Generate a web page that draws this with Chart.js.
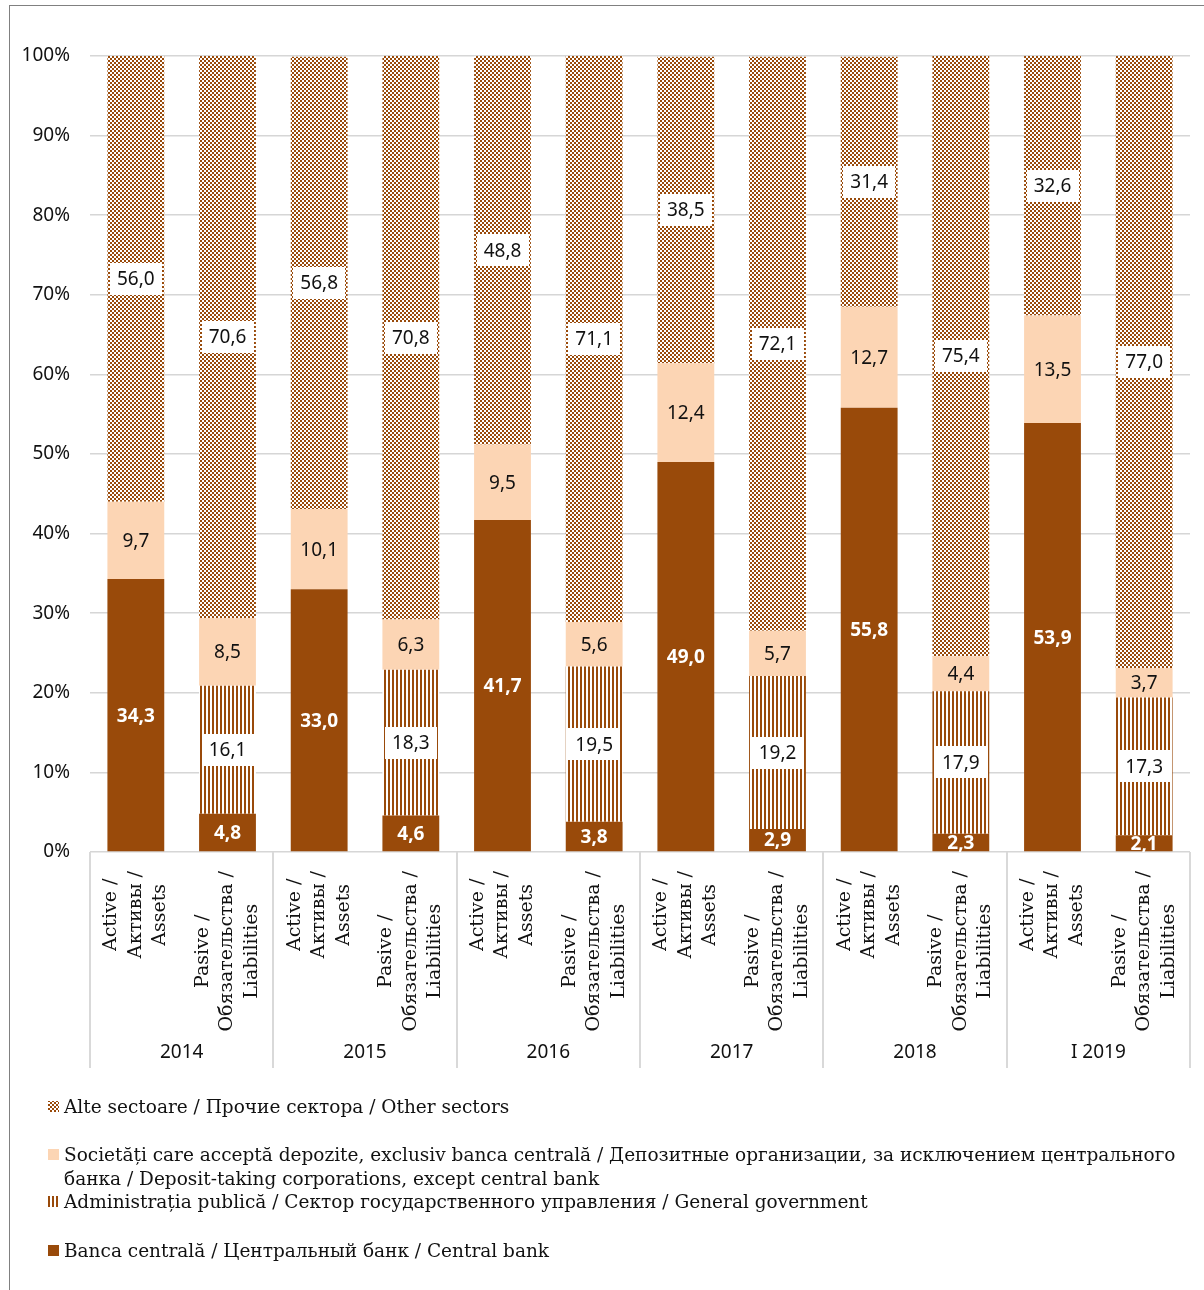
<!DOCTYPE html>
<html><head><meta charset="utf-8">
<script src="https://cdn.jsdelivr.net/npm/chart.js@4.4.1/dist/chart.umd.min.js"></script>
<style>html,body{margin:0;padding:0;background:#fff;} #wrap{width:1204px;height:1290px;position:relative;}</style>
</head><body><div id="wrap"><canvas id="c" width="1204" height="1290"></canvas></div>
<script>
// ---- data ----
const groups = ['2014', '2015', '2016', '2017', '2018', 'I 2019'];
const barTypes = [['Active /', 'Активы /', 'Assets'], ['Pasive /', 'Обязательства /', 'Liabilities']];
const categories = ['2014 A', '2014 P', '2015 A', '2015 P', '2016 A', '2016 P', '2017 A', '2017 P', '2018 A', '2018 P', 'I 2019 A', 'I 2019 P'];
const centralBank   = [34.3, 4.8, 33.0, 4.6, 41.7, 3.8, 49.0, 2.9, 55.8, 2.3, 53.9, 2.1];
const generalGov    = [null, 16.1, null, 18.3, null, 19.5, null, 19.2, null, 17.9, null, 17.3];
const depositTaking = [9.7, 8.5, 10.1, 6.3, 9.5, 5.6, 12.4, 5.7, 12.7, 4.4, 13.5, 3.7];
const otherSectors  = [56.0, 70.6, 56.8, 70.8, 48.8, 71.1, 38.5, 72.1, 31.4, 75.4, 32.6, 77.0];
const yTicks = [0, 10, 20, 30, 40, 50, 60, 70, 80, 90, 100];
const seriesNames = [
  'Banca centrală / Центральный банк / Central bank',
  'Administrația publică / Сектор государственного управления / General government',
  'Societăți care acceptă depozite, exclusiv banca centrală / Депозитные организации, за исключением центрального банка / Deposit-taking corporations, except central bank',
  'Alte sectoare / Прочие сектора / Other sectors'
];
const legendLines = [
  ['Alte sectoare / Прочие сектора / Other sectors'],
  ['Societăți care acceptă depozite, exclusiv banca centrală / Депозитные организации, за исключением центрального', 'банка / Deposit-taking corporations, except central bank'],
  ['Administrația publică / Сектор государственного управления / General government'],
  ['Banca centrală / Центральный банк / Central bank']
];

// ---- styles ----
const BROWN = '#994a0a';
const PEACH = '#fcd5b4';
const SERIF = '"DejaVu Serif"';
const SANS = '"Noto Sans"';

function makePattern(w, h, fn) {
  const cv = document.createElement('canvas');
  cv.width = w; cv.height = h;
  const c = cv.getContext('2d');
  c.fillStyle = '#fff'; c.fillRect(0, 0, w, h);
  c.fillStyle = BROWN;
  for (let y = 0; y < h; y++) for (let x = 0; x < w; x++) if (fn(x, y)) c.fillRect(x, y, 1, 1);
  return document.getElementById('c').getContext('2d').createPattern(cv, 'repeat');
}
const checker = makePattern(8, 8, (x, y) => {
  if ((x === 4 || x === 5) && (y === 2 || y === 3)) return false;
  return (((x >> 1) + (y >> 1)) % 2) === 0;
});
const stripes = makePattern(4, 1, (x) => x < 2);

const fills = [BROWN, stripes, PEACH, checker];
const seriesData = [centralBank, generalGov, depositTaking, otherSectors];

const labelStyles = [
  { color: '#ffffff', bold: true, box: false },
  { color: '#111111', bold: false, box: true },
  { color: '#111111', bold: false, box: false },
  { color: '#111111', bold: false, box: true }
];

const decor = {
  id: 'decor',
  beforeDraw(chart) {
    const ctx = chart.ctx;
    ctx.save();
    ctx.fillStyle = '#fff';
    ctx.fillRect(0, 0, chart.width, chart.height);
    ctx.strokeStyle = '#808080';
    ctx.lineWidth = 1;
    ctx.strokeRect(9.5, 5.5, 1400, 1400);
    ctx.restore();
  },
  afterDatasetsDraw(chart) {
    const ctx = chart.ctx, ca = chart.chartArea;
    ctx.save();
    ctx.beginPath();
    ctx.rect(ca.left, ca.top, ca.right - ca.left, ca.bottom - ca.top);
    ctx.clip();
    chart.data.datasets.forEach((ds, di) => {
      const meta = chart.getDatasetMeta(di);
      const st = labelStyles[di];
      meta.data.forEach((el, i) => {
        const v = ds.data[i];
        if (v == null || v === 0) return;
        const x = el.x, y = (el.y + el.base) / 2;
        const txt = v.toFixed(1).replace('.', ',');
        ctx.font = (st.bold ? 'bold ' : '') + '19px ' + SANS;
        const w = ctx.measureText(txt).width;
        if (st.box) {
          ctx.fillStyle = '#fff';
          ctx.fillRect(Math.round(x - w / 2 - 7), Math.round(y - 16), Math.round(w + 14), 32);
        }
        ctx.fillStyle = st.color;
        ctx.textAlign = 'center';
        ctx.textBaseline = 'middle';
        ctx.fillText(txt, x, y + 1);
      });
    });
    ctx.restore();
  },
  afterDraw(chart) {
    const ctx = chart.ctx, ca = chart.chartArea;
    const xs = chart.scales.x;
    ctx.save();
    // separators
    ctx.strokeStyle = '#d9d9d9';
    ctx.lineWidth = 2;
    const n = categories.length;
    const step = (ca.right - ca.left) / n;
    for (let g = 0; g <= groups.length; g++) {
      const x = Math.round(ca.left + g * 2 * step);
      ctx.beginPath(); ctx.moveTo(x, ca.bottom); ctx.lineTo(x, ca.bottom + 216); ctx.stroke();
    }
    // rotated category labels
    ctx.fillStyle = '#111';
    ctx.font = '19px ' + SERIF;
    ctx.textAlign = 'center';
    ctx.textBaseline = 'middle';
    categories.forEach((c, i) => {
      const lines = barTypes[i % 2];
      const x = xs.getPixelForValue(i);
      let maxW = 0;
      lines.forEach(l => { maxW = Math.max(maxW, ctx.measureText(l).width); });
      const cy = ca.bottom + 19 + maxW / 2;
      ctx.save();
      ctx.translate(x, cy);
      ctx.rotate(-Math.PI / 2);
      lines.forEach((l, li) => {
        ctx.fillText(l, 0, (li - (lines.length - 1) / 2) * 24.5);
      });
      ctx.restore();
    });
    // group labels
    ctx.font = '19px ' + SANS;
    groups.forEach((g, gi) => {
      const x = (xs.getPixelForValue(gi * 2) + xs.getPixelForValue(gi * 2 + 1)) / 2;
      ctx.fillText(g, x, 1053);
    });
    // legend
    ctx.font = '18.5px ' + SERIF;
    ctx.textAlign = 'left';
    ctx.textBaseline = 'alphabetic';
    const legendFills = [checker, PEACH, stripes, BROWN];
    const baselines = [1113, 1161, 1208, 1257];
    legendLines.forEach((lines, k) => {
      const b = baselines[k];
      ctx.fillStyle = legendFills[k];
      ctx.fillRect(48, b - 12, 11, 11);
      ctx.fillStyle = '#111';
      lines.forEach((l, li) => ctx.fillText(l, 64, b + li * 24));
    });
    ctx.restore();
  }
};

new Chart(document.getElementById('c'), {
  type: 'bar',
  data: {
    labels: categories,
    datasets: seriesData.map((d, i) => ({
      label: seriesNames[i],
      data: d,
      backgroundColor: fills[i],
      borderWidth: 0,
      categoryPercentage: 1,
      barPercentage: 0.62
    }))
  },
  options: {
    responsive: false,
    devicePixelRatio: 1,
    animation: false,
    layout: { padding: { left: 0, top: 56, right: 14, bottom: 438 } },
    plugins: { legend: { display: false }, tooltip: { enabled: false } },
    scales: {
      x: { stacked: true, display: false },
      y: {
        stacked: true,
        min: 0, max: 100,
        afterBuildTicks(scale) { scale.ticks = yTicks.map(v => ({ value: v })); },
        afterFit(scale) { scale.width = 90; },
        border: { display: false },
        grid: { color: '#d6d6d6', lineWidth: 1.5, drawTicks: false },
        ticks: {
          padding: 20,
          color: '#111',
          font: { family: 'Noto Sans', size: 19 },
          callback: v => v + '%'
        }
      }
    }
  },
  plugins: [decor]
});
</script>
</body></html>
